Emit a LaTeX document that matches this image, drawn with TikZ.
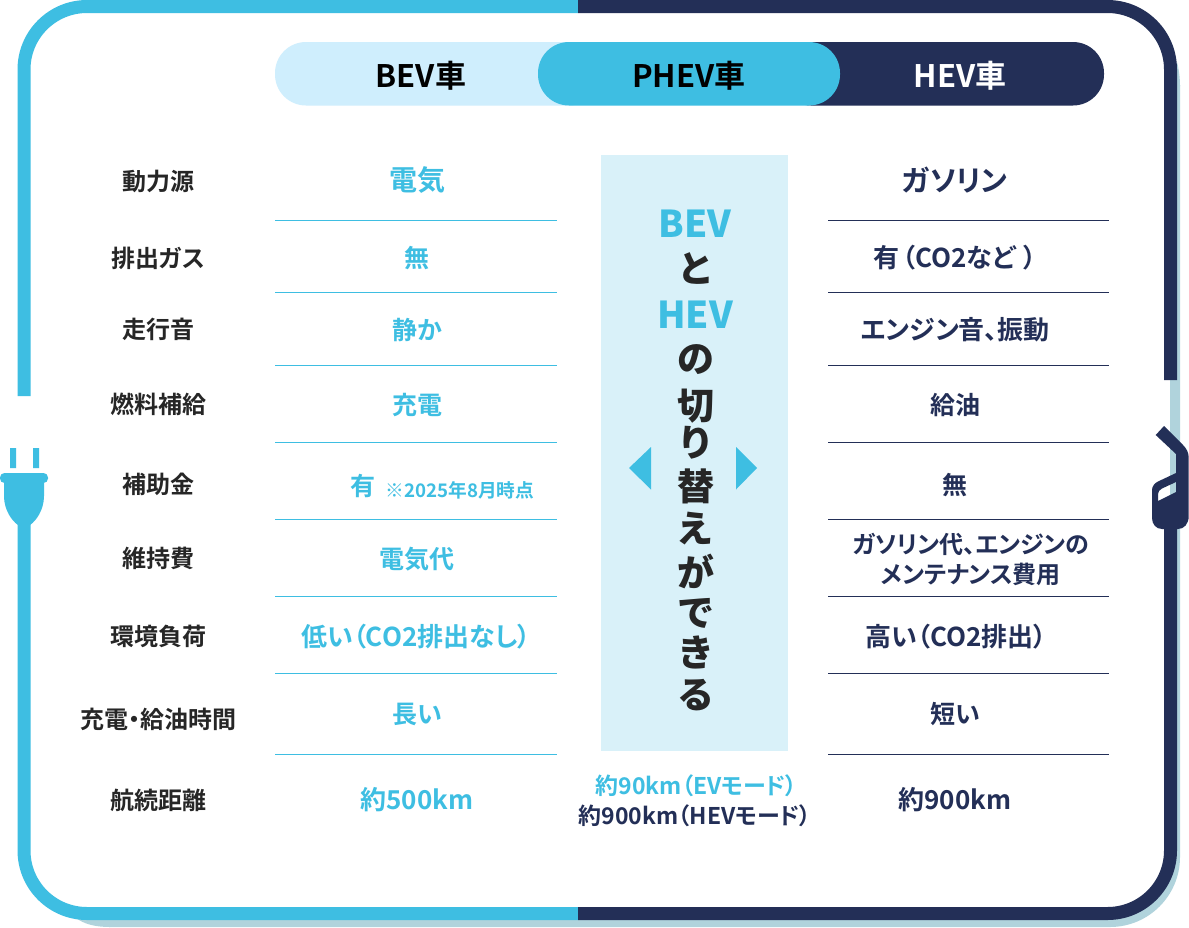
\documentclass[tikz,border=0pt]{standalone}
\usepackage{fontspec}
\setmainfont{Noto Sans CJK JP}[BoldFont={Noto Sans CJK JP Bold},RawFeature=+palt]
\newfontfamily\blk{Noto Sans CJK JP Black}[RawFeature=+palt]
\definecolor{cy}{HTML}{3EBEE2}
\definecolor{nv}{HTML}{232F57}
\definecolor{sh}{HTML}{B0D3DC}
\definecolor{pl}{HTML}{CFEEFD}
\definecolor{pn}{HTML}{D9F1F9}
\tikzset{
 lab/.style={font=\bfseries\fontsize{23}{24}\selectfont,text=#1,inner sep=0pt,align=center},
 rowl/.style={font=\bfseries\fontsize{24}{24}\selectfont,text=black!85,inner sep=0pt},
 bv/.style={font=\bfseries\fontsize{25}{28}\selectfont,text=cy,inner sep=0pt},
 hv/.style={font=\bfseries\fontsize{25}{28}\selectfont,text=nv,inner sep=0pt,align=center},
 longt/.style={font=\bfseries\fontsize{26}{28}\selectfont},
 pill/.style={font=\bfseries\fontsize{31}{34}\selectfont,inner sep=0pt},
 big/.style={font=\blk\fontsize{37}{40}\selectfont,inner sep=0pt},
 frameb/.style={line width=13pt,draw=cy,rounded corners=63pt},
 framen/.style={line width=13pt,draw=nv,rounded corners=63pt},
}
\begin{document}
\begin{tikzpicture}[x=1pt,y=-1pt]
\useasboundingbox[fill=white] (0,0) rectangle (1189,927);
% shadow
\fill[sh] (76,918) .. controls (84,924) and (95,927) .. (110,927) -- (110,915) -- cycle;
\draw[line width=10pt,draw=sh,rounded corners=65pt] (109,922) -- (1175,922) -- (1175,85);
\fill[sh] (1177,62) .. controls (1179,70) and (1180,78) .. (1180,86) -- (1170,86) -- cycle;
% frame
\draw[frameb] (578,6.5) -- (24,6.5) -- (24,396);
\draw[frameb] (24,515) -- (24,913.5) -- (578,913.5);
\draw[framen] (578,6.5) -- (1170.5,6.5) -- (1170.5,380);
\draw[framen] (1170.5,520) -- (1170.5,913.5) -- (578,913.5);
% plug
\fill[cy] (10,448) rectangle (16,468) (33,448) rectangle (39,468);
\fill[cy,rounded corners=4.5pt] (0,473) rectangle (48,483);
\fill[cy] (4,480) -- (44,480) -- (44,496) .. controls (44,510) and (36,521) .. (30,525) -- (18,525) .. controls (12,521) and (4,510) .. (4,496) -- cycle;
% nozzle
\fill[nv,even odd rule] (1155.7,435) -- (1164,426) -- (1183,445) .. controls (1187,449) and (1188.7,453) .. (1188.7,458) -- (1188.7,516) .. controls (1188.7,524) and (1184,529) .. (1178,529) -- (1162,529) .. controls (1156,529) and (1152,524) .. (1152,518) -- (1152,490) .. controls (1152,486) and (1155,483) .. (1158,481.5) -- (1176,473) -- (1176,454) -- cycle
 (1158,501) -- (1176,492) -- (1176,482) -- (1162,488.5) .. controls (1159.5,490) and (1158,491.5) .. (1158,494) -- cycle;
% pills
\fill[pl,rounded corners=31pt] (275,42) rectangle (600,105.5);
\fill[nv,rounded corners=31pt] (780,42) rectangle (1104,105.5);
\fill[cy,rounded corners=31pt] (538,42) rectangle (840,105.5);
\node[pill,text=black] (t1) at (421,76) {BEV車};
\node[pill,text=black] (t2) at (689,76) {PHEV車};
\node[pill,text=white] (t3) at (960,76) {HEV車};
% centre panel
\fill[pn] (601,155) rectangle (788,751);
\node[big,text=cy] (c1) at (695,224) {BEV};
\node[big,text=black!85] (c2) at (695,269) {と};
\node[big,text=cy] (c3) at (695,315) {HEV};
\foreach \ch/\yy in {の/360,切/406,り/443,替/486,え/529,が/571,で/613,き/652,る/695}
  \node[big,text=black!85] at (696,\yy) {\ch};
\fill[cy] (651,447) -- (651,489.5) -- (629,468) -- cycle;
\fill[cy] (736,447) -- (736,489.5) -- (757,468) -- cycle;
% rules
\foreach \yy in {220.5,292.5,365.5,442.5,519.5,596.5,673.5,754.5} {
  \draw[cy,line width=1pt] (275,\yy) -- (557,\yy);
  \draw[nv,line width=1pt] (828,\yy) -- (1109,\yy);
}
% row labels
\node[rowl] at (158,181) {動力源};
\node[rowl] at (158,258) {排出ガス};
\node[rowl] at (158,329) {走行音};
\node[rowl] at (158,404) {燃料補給};
\node[rowl] at (158,484) {補助金};
\node[rowl] at (158,558) {維持費};
\node[rowl] at (158,636) {環境負荷};
\node[rowl] at (158,719) {充電・給油時間};
\node[rowl] at (158,800) {航続距離};
% BEV
\node[bv,font=\bfseries\fontsize{28}{30}\selectfont] at (417,180) {電気};
\node[bv] at (417,258) {無};
\node[bv] at (417,330) {静か};
\node[bv] at (417,405) {充電};
\node[bv] at (363,486) {有};
\node[font=\bfseries\fontsize{18.7}{20}\selectfont,text=cy,inner sep=0pt] at (460,490) {※2025年8月時点};
\node[bv] at (417,559) {電気代};
\node[bv,longt] at (416,637) {低い（CO2排出なし）};
\node[bv] at (417,714) {長い};
\node[bv,font=\bfseries\fontsize{26}{28}\selectfont] at (417,800) {約500km};
% PHEV range
\node[lab=cy] at (696.5,786) {約90km（EVモード）};
\node[lab=nv] at (695,816) {約900km（HEVモード）};
% HEV
\node[hv,font=\bfseries\fontsize{29}{30}\selectfont] at (955,180) {ガソリン};
\node[hv,longt] at (955,258) {有\kern3pt（CO2など\kern8pt）};
\node[hv,longt] at (955.5,330) {エンジン音、振動};
\node[hv] at (955,405) {給油};
\node[hv] at (955,485) {無};
\node[hv,font=\bfseries\fontsize{24}{30}\selectfont] at (971,559) {ガソリン代、エンジンの\\メンテナンス費用};
\node[hv,longt] at (956,637) {高い（CO2排出）};
\node[hv] at (955,714) {短い};
\node[hv,font=\bfseries\fontsize{26}{28}\selectfont] at (955,800) {約900km};
\end{tikzpicture}
\end{document}
